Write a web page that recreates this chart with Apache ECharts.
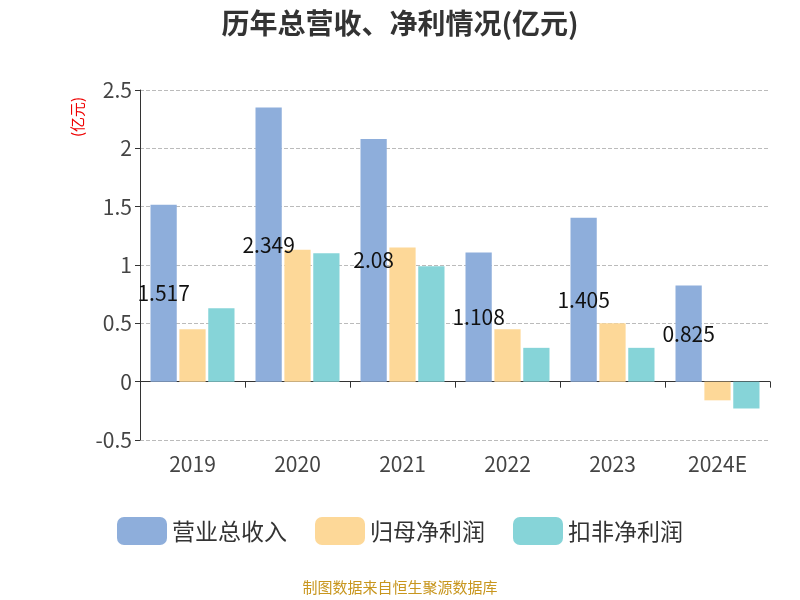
<!DOCTYPE html>
<html lang="zh">
<head>
<meta charset="UTF-8">
<script src="https://cdn.jsdelivr.net/npm/echarts@6/dist/echarts.min.js"></script>
<style>
  * { margin: 0; padding: 0; }
  #chart { width: 800px; height: 600px; }
</style>
</head>
<body>
<div id="chart"></div>
<script>
const years = ['2019', '2020', '2021', '2022', '2023', '2024E'];
const revenue = [1.517, 2.349, 2.08, 1.108, 1.405, 0.825];
const netProfit = [0.45, 1.13, 1.15, 0.45, 0.50, -0.16];
const deductedProfit = [0.63, 1.10, 0.99, 0.29, 0.29, -0.23];

const font = '"Noto Sans CJK SC", "Noto Sans", sans-serif';

echarts.init(document.getElementById('chart')).setOption({
  textStyle: { fontFamily: font },
  title: {
    text: '历年总营收、净利情况(亿元)',
    left: 'center', top: 4,
    textStyle: { fontSize: 28, fontWeight: 'bold', color: '#333', fontFamily: font }
  },
  graphic: [
    { type: 'text', left: 'center', top: 580,
      style: { text: '制图数据来自恒生聚源数据库', fill: '#c8961e', fontSize: 15, fontFamily: font } },
    { type: 'text', x: 70, y: 137, rotation: Math.PI / 2,
      style: { text: '(亿元)', fill: '#e00', fontSize: 15, fontFamily: font } }
  ],
  legend: {
    bottom: 50, itemWidth: 50, itemHeight: 28, itemGap: 28,
    textStyle: { fontSize: 23, color: '#333' },
    data: ['营业总收入', '归母净利润', '扣非净利润']
  },
  grid: { left: 140, right: 30, top: 90, bottom: 160 },
  xAxis: [
    { type: 'category', data: years,
      axisLine: { onZero: true, lineStyle: { color: '#333' } },
      axisTick: { show: true, length: 6, lineStyle: { color: '#333' } },
      axisLabel: { show: false } },
    { type: 'category', data: years, position: 'bottom',
      axisLine: { show: false, onZero: false }, axisTick: { show: false },
      axisLabel: { fontSize: 21, color: '#444', margin: 14 } }
  ],
  yAxis: {
    type: 'value', min: -0.5, max: 2.5, interval: 0.5,
    axisLine: { show: true, lineStyle: { color: '#333' } },
    axisTick: { show: true, lineStyle: { color: '#333' } },
    axisLabel: { fontSize: 21, color: '#444' },
    splitLine: { lineStyle: { type: 'dashed', color: '#bbb' } }
  },
  series: [
    { name: '营业总收入', type: 'bar', data: revenue, barGap: '10%', barCategoryGap: '20%',
      itemStyle: { color: '#8eaedb' },
      label: { show: true, position: 'inside', color: '#111', fontSize: 21 } },
    { name: '归母净利润', type: 'bar', data: netProfit, itemStyle: { color: '#fdd898' } },
    { name: '扣非净利润', type: 'bar', data: deductedProfit, itemStyle: { color: '#86d4d8' } }
  ]
});
</script>
</body>
</html>
